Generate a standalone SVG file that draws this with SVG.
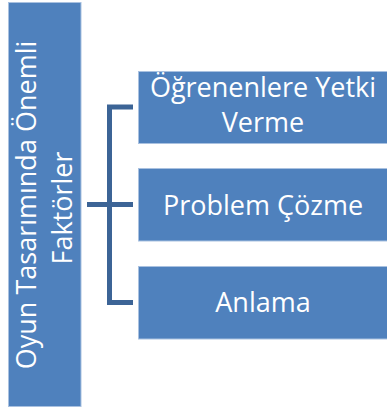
<svg xmlns="http://www.w3.org/2000/svg" width="387" height="407" viewBox="0 0 387 407">
  <style>
    .box { fill: #4F81BD; stroke: #A9C1E0; stroke-width: 1; }
    .lbl { font-family: "Open Sans", "Noto Sans", sans-serif; font-size: 27px; fill: #ffffff; text-anchor: middle; }
    .conn { fill: none; stroke: #3C6496; stroke-width: 5; }
  </style>
  <rect width="387" height="407" fill="#ffffff"/>
  <g id="connectors">
    <path class="conn" d="M133,107 H109.5 V302.5 H133"/>
    <path class="conn" d="M87,204.5 H133"/>
  </g>
  <g id="root">
    <rect class="box" x="8.5" y="2.5" width="72.5" height="404"/>
    <text class="lbl" transform="translate(36,205) rotate(-90)">Oyun Tasarımında Önemli</text>
    <text class="lbl" transform="translate(71.5,208) rotate(-90)">Faktörler</text>
  </g>
  <g id="node1">
    <rect class="box" x="138.5" y="71.5" width="249" height="72"/>
    <text class="lbl" x="263" y="96.5">Öğrenenlere Yetki</text>
    <text class="lbl" x="263" y="131.5">Verme</text>
  </g>
  <g id="node2">
    <rect class="box" x="138.5" y="168.5" width="249" height="72.5"/>
    <text class="lbl" x="263" y="215">Problem Çözme</text>
  </g>
  <g id="node3">
    <rect class="box" x="138.5" y="266.5" width="249" height="72.5"/>
    <text class="lbl" x="263" y="312">Anlama</text>
  </g>
</svg>
